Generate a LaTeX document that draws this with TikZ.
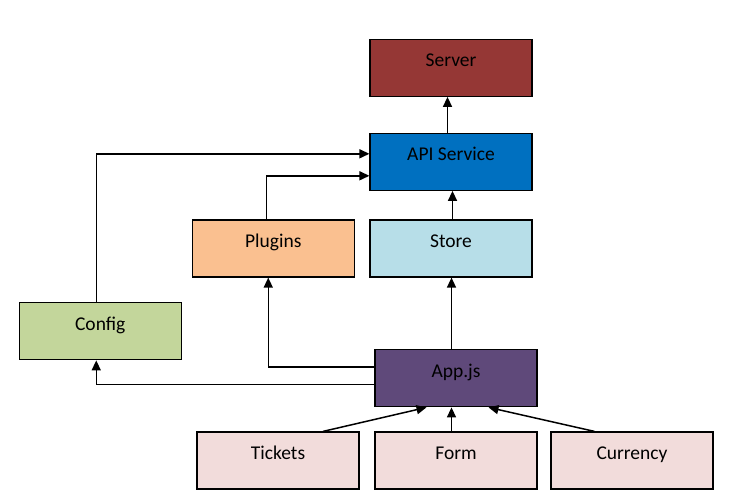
\documentclass[tikz,border=0pt]{standalone}
\usepackage{fontspec}
\setmainfont{Carlito}
\usetikzlibrary{arrows.meta}
\definecolor{cserver}{HTML}{953735}
\definecolor{capi}{HTML}{0070C0}
\definecolor{cstore}{HTML}{B7DEE8}
\definecolor{cplug}{HTML}{FAC090}
\definecolor{cconf}{HTML}{C3D69B}
\definecolor{capp}{HTML}{5F497A}
\definecolor{cpink}{HTML}{F2DCDB}
\begin{document}
\begin{tikzpicture}[x=1pt,y=-1pt,
  box/.style={draw=black,line width=1.2pt,minimum width=162pt,minimum height=57pt,
    inner sep=0pt,text height=13pt,text depth=15.6pt,
    font=\fontsize{19.5}{23}\selectfont,text=black},
  arr/.style={draw=black,line width=1.5pt,-{Triangle[length=10pt,width=9pt]}}]
\path[fill=white] (0,0) rectangle (730,500);
\useasboundingbox (0,0) rectangle (730,500);
\node[box,fill=cserver] (server) at (451,67.8) {Server};
\node[box,fill=capi] (api) at (451,161.8) {API Service};
\node[box,fill=cstore] (store) at (451,248.5) {Store};
\node[box,fill=cplug] (plugins) at (273.25,248.5) {Plugins};
\node[box,fill=cconf] (config) at (100.25,331.3) {Config};
\node[box,fill=capp] (app) at (456,378.3) {App.js};
\node[box,fill=cpink] (tickets) at (278,460.5) {Tickets};
\node[box,fill=cpink] (form) at (456,460.5) {Form};
\node[box,fill=cpink] (currency) at (632,460.5) {Currency};
% API -> Server
\coordinate (c1) at ([xshift=-3.5pt]api.north);
\draw[arr] (c1) -- (c1 |- server.south);
% Store -> API
\coordinate (c2) at ([xshift=1.5pt]store.north);
\draw[arr] (c2) -- (c2 |- api.south);
% App -> Store
\coordinate (c3) at ([xshift=-4.5pt]app.north);
\draw[arr] (c3) -- (c3 |- store.south);
% Config -> API
\draw[arr] ([xshift=-4pt]config.north) |- ([yshift=8pt]api.west);
% Plugins -> API
\draw[arr] ([xshift=-7pt]plugins.north) |- ([yshift=-14pt]api.west);
% App -> Plugins
\draw[arr] ([yshift=11.5pt]app.west) -| ([xshift=-5pt]plugins.south);
% App -> Config
\draw[arr] ([yshift=-6pt]app.west) -| ([xshift=-4pt]config.south);
% Tickets -> App
\draw[arr] ([xshift=45pt]tickets.north) -- ([xshift=-29.5pt]app.south);
% Form -> App
\coordinate (c4) at ([xshift=-4.5pt]form.north);
\draw[arr] (c4) -- (c4 |- app.south);
% Currency -> App
\draw[arr] ([xshift=-37.5pt]currency.north) -- ([xshift=32.5pt]app.south);
\end{tikzpicture}
\end{document}
